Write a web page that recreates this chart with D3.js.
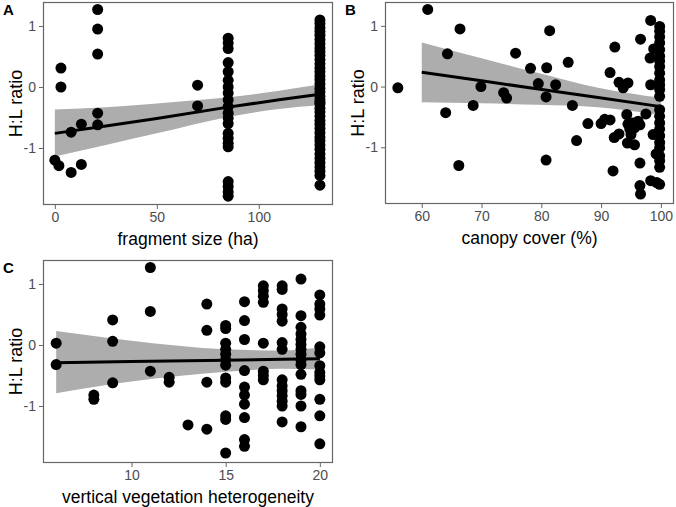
<!DOCTYPE html>
<html>
<head>
<meta charset="utf-8">
<script src="https://cdn.jsdelivr.net/npm/d3@7"></script>
<style>
  body { margin: 0; background: #fff; }
  svg { font-family: "Liberation Sans", Arial, sans-serif; }
</style>
</head>
<body>
<script>
var w = 676;
var h = 507;

// y axis shared by all three panels
var yTicks = [-1, 0, 1];

// Panel A: fragment size (ha)
var fragX = [0, 2, 3, 3, 8, 8, 13, 13, 21, 21,
  21, 21, 21, 70, 70,
  85, 85, 85, 85, 85, 85, 85, 85, 85, 85,
  85, 85, 85, 85, 85, 85, 85, 85, 85, 85,
  85,
  130, 130, 130, 130, 130, 130, 130, 130, 130, 130,
  130, 130, 130, 130, 130, 130, 130, 130, 130, 130,
  130, 130, 130, 130, 130, 130, 130, 130, 130, 130,
  130, 130, 130, 130, 130, 130, 130, 130, 130, 130,
  130];
var fragY = [-1.20, -1.29, 0.31, 0.0, -0.74, -1.40, -0.61, -1.27, 1.27, 0.95,
  0.54, -0.43, -0.62, 0.03, -0.31,
  0.80, 0.72, 0.63, 0.40, 0.25, 0.11, 0.0, -0.10, -0.21, -0.32,
  -0.43, -0.51, -0.60, -0.76, -0.84, -0.92, -0.98, -1.55, -1.63, -1.72,
  -1.79,
  1.10, 1.04, 0.97, 0.91, 0.85, 0.78, 0.71, 0.64, 0.58, 0.52,
  0.45, 0.38, 0.31, 0.25, 0.18, 0.12, 0.05, -0.02, -0.08, -0.15,
  -0.21, -0.28, -0.35, -0.41, -0.48, -0.55, -0.61, -0.68, -0.75, -0.82,
  -0.88, -0.95, -1.02, -1.10, -1.17, -1.24, -1.31, -1.38, -1.45, -1.61,
  -0.25];
var fragFitX = [0, 25, 50, 85, 110, 130];
var fragFit = [-0.76, -0.64, -0.515, -0.33, -0.21, -0.12];
var fragLow = [-1.14, -0.95, -0.76, -0.49, -0.36, -0.30];
var fragHigh = [-0.37, -0.33, -0.27, -0.17, -0.06, 0.04];
var fragTicks = [0, 50, 100];

// Panel B: canopy cover (%)
var canopyX = [56, 61, 64.3, 64, 66.4, 66.2, 68.6, 69.9, 73.7, 74.2, 75.7, 78.2, 79.5, 80.9, 80.8, 80.8,
  81.4, 82.4, 84.5, 85.2, 85.9, 87.8, 90.0, 90.6, 91.5, 91.5, 92.3, 92.0, 92.2, 93.0, 93.0, 93.7,
  94.5, 94.3, 94.5, 94.8, 95.3, 95.6, 96.2, 96.5, 94.4, 95.6, 95.0, 96.6, 96.5, 96.5, 96.6, 97.5,
  98.3, 98.3, 98.7, 98.3, 98.2, 98.8, 99.2, 99.3,
  99.8, 99.8, 99.8, 99.8, 99.8, 99.8, 99.8, 99.8, 99.8, 99.8, 99.8, 99.8, 99.8,
  99.8, 99.8, 99.8, 99.8, 99.8, 99.8, 99.8, 99.8, 99.8, 99.8, 99.8];
var canopyY = [-0.02, 1.27, 0.54, -0.43, 0.95, -1.30, -0.31, 0.0, -0.10, -0.19, 0.55, 0.30, 0.05, 0.31, -0.17, -1.21,
  0.92, 0.03, 0.40, -0.31, -0.89, -0.61, -0.61, -0.54, -0.55, 0.23, 0.65, -1.39, -0.84, -0.78, 0.07, -0.02,
  0.06, -0.46, -0.62, -0.70, -0.60, -0.68, -0.57, -0.63, -0.93, -0.96, -0.79, 0.78, -1.26, -1.63, -1.77, -0.45,
  1.09, 0.03, -0.79, -1.55, 0.47, 0.62, -1.11, -1.58,
  0.99, 0.91, 0.82, 0.72, 0.61, 0.50, 0.42, 0.33, 0.22, 0.11, 0.03, -0.05, -0.16,
  -0.38, -0.49, -0.60, -0.70, -0.81, -0.92, -1.01, -1.14, -1.22, -1.33, -1.61];
var canopyFitX = [60, 70, 79.5, 89.5, 100];
var canopyFit = [0.235, 0.095, -0.04, -0.18, -0.33];
var canopyLow = [-0.26, -0.275, -0.30, -0.34, -0.47];
var canopyHigh = [0.726, 0.465, 0.224, -0.02, -0.186];
var canopyTicks = [60, 70, 80, 90, 100];

// Panel C: vertical vegetation heterogeneity
var vegX = [6, 6, 8, 8, 9, 9, 9, 11, 11, 11, 12, 12, 13, 14, 14, 14, 14,
  15, 15, 15, 15, 15, 15, 15, 15, 15, 15, 15, 15,
  16, 16, 16, 16, 16, 16, 16, 16, 16, 16,
  17, 17, 17, 17, 17, 17, 17, 17,
  18, 18, 18, 18, 18, 18, 18, 18, 18, 18, 18, 18, 18, 18,
  19, 19, 19, 19, 19, 19, 19, 19, 19, 19, 19, 19, 19, 19, 19,
  20, 20, 20, 20, 20, 20, 20, 20, 20, 20, 20, 20, 20];
var vegY = [0.03, -0.32, -0.82, -0.89, 0.41, 0.06, -0.62, 1.27, 0.55, -0.43, -0.53, -0.61, -1.31, 0.67, 0.24, -0.61, -1.38,
  0.32, 0.27, 0.03, -0.07, -0.15, -0.24, -0.33, -0.54, -0.61, -1.16, -1.22, -1.77,
  0.71, 0.40, 0.09, -0.42, -0.69, -0.82, -0.97, -1.19, -1.55, -1.66,
  0.97, 0.89, 0.80, 0.70, 0.03, -0.43, -0.50, -0.57,
  0.97, 0.91, 0.59, 0.50, 0.39, 0.04, -0.07, -0.57, -0.67, -0.75, -0.83, -0.92, -1.00, -1.26,
  1.08, 0.48, 0.29, 0.18, 0.09, 0.01, -0.07, -0.15, -0.24, -0.32, -0.48, -0.75, -0.81, -1.00, -1.34,
  0.82, 0.67, 0.59, 0.49, -0.03, -0.13, -0.34, -0.45, -0.51, -0.57, -0.89, -1.16, -1.62];
var vegFitX = [6, 10, 15, 18, 20];
var vegFit = [-0.29, -0.27, -0.25, -0.235, -0.225];
var vegLow = [-0.79, -0.60, -0.44, -0.39, -0.40];
var vegHigh = [0.23, 0.07, -0.07, -0.09, -0.04];
var vegTicks = [10, 15, 20];

var svg = d3.select("body")
    .append("svg")
    .attr("width", w)
    .attr("height", h);

var panels = [
  { label: "A", title: "fragment size (ha)", xs: fragX, ys: fragY,
    fx: fragFitX, fit: fragFit, lo: fragLow, hi: fragHigh, ticks: fragTicks,
    xDomain: [-5.8, 136.4], box: { left: 43, right: 333, top: 2, bottom: 205 } },
  { label: "B", title: "canopy cover (%)", xs: canopyX, ys: canopyY,
    fx: canopyFitX, fit: canopyFit, lo: canopyLow, hi: canopyHigh, ticks: canopyTicks,
    xDomain: [53.85, 102.2], box: { left: 385, right: 674, top: 2, bottom: 204 } },
  { label: "C", title: "vertical vegetation heterogeneity", xs: vegX, ys: vegY,
    fx: vegFitX, fit: vegFit, lo: vegLow, hi: vegHigh, ticks: vegTicks,
    xDomain: [5.3, 20.7], box: { left: 43, right: 333, top: 260, bottom: 463 } }
];

panels.forEach(function (p) {
    var b = p.box;
    var g = svg.append("g");

    var xScale = d3.scaleLinear().domain(p.xDomain).range([b.left, b.right]);
    var yScale = d3.scaleLinear().domain([-1.934, 1.393]).range([b.bottom, b.top]);

    // confidence band
    var band = d3.area()
        .x(function (d, i) { return xScale(p.fx[i]); })
        .y0(function (d, i) { return yScale(p.lo[i]); })
        .y1(function (d, i) { return yScale(p.hi[i]); })
        .curve(d3.curveMonotoneX);
    g.append("path")
        .datum(p.fx)
        .attr("d", band)
        .attr("fill", "#adadad");

    // points
    g.selectAll("circle")
        .data(p.xs)
        .enter()
        .append("circle")
        .attr("cx", function (d) { return xScale(d); })
        .attr("cy", function (d, i) { return yScale(p.ys[i]); })
        .attr("r", 5.5)
        .attr("fill", "#000");

    // fitted line
    var line = d3.line()
        .x(function (d, i) { return xScale(p.fx[i]); })
        .y(function (d, i) { return yScale(p.fit[i]); });
    g.append("path")
        .datum(p.fx)
        .attr("d", line)
        .attr("fill", "none")
        .attr("stroke", "#000")
        .attr("stroke-width", 3);

    // axes
    var xAxis = d3.axisBottom(xScale).tickValues(p.ticks).tickSize(4).tickPadding(3)
        .tickFormat(d3.format("d"));
    var yAxis = d3.axisLeft(yScale).tickValues(yTicks).tickSize(4).tickPadding(3)
        .tickFormat(function (d) { return d < 0 ? "-" + Math.abs(d) : d; });

    var xg = g.append("g")
        .attr("transform", "translate(0," + b.bottom + ")")
        .call(xAxis);
    var yg = g.append("g")
        .attr("transform", "translate(" + b.left + ",0)")
        .call(yAxis);
    [xg, yg].forEach(function (a) {
        a.select(".domain").remove();
        a.selectAll(".tick line").attr("stroke", "#666");
        a.selectAll(".tick text")
            .attr("fill", "#4d4d4d")
            .style("font-size", "14px")
            .style("font-family", "'Liberation Sans', Arial, sans-serif");
    });

    // panel border
    g.append("rect")
        .attr("x", b.left + 0.5)
        .attr("y", b.top + 0.5)
        .attr("width", b.right - b.left - 1)
        .attr("height", b.bottom - b.top - 1)
        .attr("fill", "none")
        .attr("stroke", "#666")
        .attr("stroke-width", 1.2);

    // axis titles
    g.append("text")
        .attr("x", (b.left + b.right) / 2)
        .attr("y", b.bottom + 40)
        .attr("text-anchor", "middle")
        .style("font-size", "17.5px")
        .text(p.title);

    g.append("text")
        .attr("transform", "translate(" + (b.left - 21) + "," + ((b.top + b.bottom) / 2) + ") rotate(-90)")
        .attr("text-anchor", "middle")
        .style("font-size", "18px")
        .text("H:L ratio");

    // panel letter
    g.append("text")
        .attr("x", b.left - 40)
        .attr("y", b.top + 13)
        .style("font-size", "15px")
        .style("font-weight", "bold")
        .text(p.label);
});
</script>
</body>
</html>
